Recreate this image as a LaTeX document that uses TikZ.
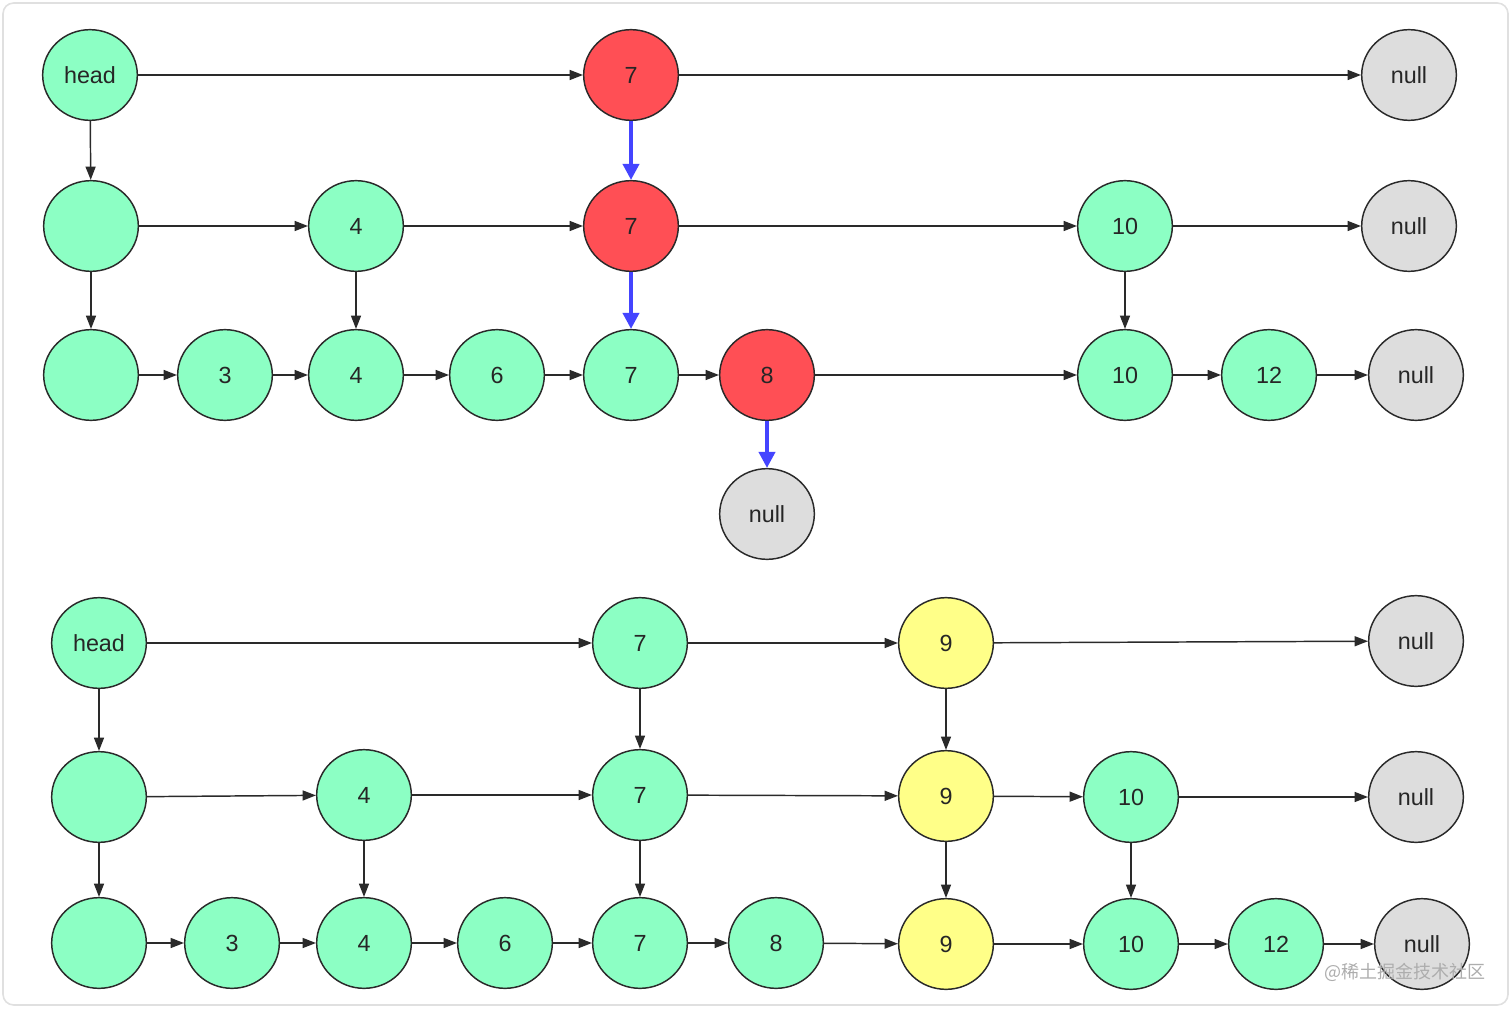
\documentclass[tikz,border=0pt]{standalone}
\usepackage{fontspec}
\setmainfont{Liberation Sans}
\newfontfamily\cjk{Noto Sans CJK SC}
\usetikzlibrary{shapes.geometric,arrows.meta}
\definecolor{ngreen}{HTML}{8CFFC4}
\definecolor{nred}{HTML}{FF4F55}
\definecolor{nyellow}{HTML}{FFFF88}
\definecolor{ngray}{HTML}{DDDDDD}
\definecolor{nblue}{HTML}{4444FF}
\definecolor{edge}{HTML}{2A2A2A}
\tikzset{
  nd/.style={ellipse,draw=edge,line width=1.1pt,minimum width=71pt,minimum height=68pt,inner sep=0pt,font=\fontsize{17.5}{19}\selectfont,text=black!85},
  gn/.style={nd,fill=ngreen},
  rn/.style={nd,fill=nred},
  yn/.style={nd,fill=nyellow},
  nn/.style={nd,fill=ngray},
  arr/.style={draw=edge,line width=1.1pt,-{Triangle[length=10pt,width=7.5pt]}},
  barr/.style={draw=nblue,line width=2.8pt,-{Triangle[length=12pt,width=12pt]}}
}
\begin{document}
\begin{tikzpicture}[x=0.75pt,y=-0.75pt]
\useasboundingbox (0,0) rectangle (1512,1009);
\draw[draw=black!12,line width=1.2pt,rounded corners=8pt,fill=white] (3,3) rectangle (1508,1005);
% ---------- top ----------
\node[gn] (ah) at (90,75) {head};
\node[rn] (a7) at (631,75) {7};
\node[nn] (an) at (1409,75) {null};
\node[gn] (b0) at (91,226) {};
\node[gn] (b4) at (356,226) {4};
\node[rn] (b7) at (631,226) {7};
\node[gn] (b10) at (1125,226) {10};
\node[nn] (bn) at (1409,226) {null};
\node[gn] (c0) at (91,375) {};
\node[gn] (c3) at (225,375) {3};
\node[gn] (c4) at (356,375) {4};
\node[gn] (c6) at (497,375) {6};
\node[gn] (c7) at (631,375) {7};
\node[rn] (c8) at (767,375) {8};
\node[gn] (c10) at (1125,375) {10};
\node[gn] (c12) at (1269,375) {12};
\node[nn] (cn) at (1416,375) {null};
\node[nn] (dn) at (767,514) {null};
\draw[arr] (ah) -- (a7);
\draw[arr] (a7) -- (an);
\draw[arr] (ah) -- (b0);
\draw[barr] (a7) -- (b7);
\draw[arr] (b0) -- (b4);
\draw[arr] (b4) -- (b7);
\draw[arr] (b7) -- (b10);
\draw[arr] (b10) -- (bn);
\draw[arr] (b0) -- (c0);
\draw[arr] (b4) -- (c4);
\draw[barr] (b7) -- (c7);
\draw[arr] (b10) -- (c10);
\draw[arr] (c0) -- (c3);
\draw[arr] (c3) -- (c4);
\draw[arr] (c4) -- (c6);
\draw[arr] (c6) -- (c7);
\draw[arr] (c7) -- (c8);
\draw[arr] (c8) -- (c10);
\draw[arr] (c10) -- (c12);
\draw[arr] (c12) -- (cn);
\draw[barr] (c8) -- (dn);
% ---------- bottom ----------
\node[gn] (eh) at (99,643) {head};
\node[gn] (e7) at (640,643) {7};
\node[yn] (e9) at (946,643) {9};
\node[nn] (en) at (1416,641) {null};
\node[gn] (f0) at (99,797) {};
\node[gn] (f4) at (364,795) {4};
\node[gn] (f7) at (640,795) {7};
\node[yn] (f9) at (946,796) {9};
\node[gn] (f10) at (1131,797) {10};
\node[nn] (fn) at (1416,797) {null};
\node[gn] (g0) at (99,943) {};
\node[gn] (g3) at (232,943) {3};
\node[gn] (g4) at (364,943) {4};
\node[gn] (g6) at (505,943) {6};
\node[gn] (g7) at (640,943) {7};
\node[gn] (g8) at (776,943) {8};
\node[yn] (g9) at (946,944) {9};
\node[gn] (g10) at (1131,944) {10};
\node[gn] (g12) at (1276,944) {12};
\node[nn] (gn) at (1422,944) {null};
\draw[arr] (eh) -- (e7);
\draw[arr] (e7) -- (e9);
\draw[arr] (e9) -- (en);
\draw[arr] (eh) -- (f0);
\draw[arr] (e7) -- (f7);
\draw[arr] (e9) -- (f9);
\draw[arr] (f0) -- (f4);
\draw[arr] (f4) -- (f7);
\draw[arr] (f7) -- (f9);
\draw[arr] (f9) -- (f10);
\draw[arr] (f10) -- (fn);
\draw[arr] (f0) -- (g0);
\draw[arr] (f4) -- (g4);
\draw[arr] (f7) -- (g7);
\draw[arr] (f9) -- (g9);
\draw[arr] (f10) -- (g10);
\draw[arr] (g0) -- (g3);
\draw[arr] (g3) -- (g4);
\draw[arr] (g4) -- (g6);
\draw[arr] (g6) -- (g7);
\draw[arr] (g7) -- (g8);
\draw[arr] (g8) -- (g9);
\draw[arr] (g9) -- (g10);
\draw[arr] (g10) -- (g12);
\draw[arr] (g12) -- (gn);
\node[font=\cjk\fontsize{13.5}{15}\selectfont,text=black!32,anchor=center] (wm) at (1405,972) {@稀土掘金技术社区};
\end{tikzpicture}
\end{document}
